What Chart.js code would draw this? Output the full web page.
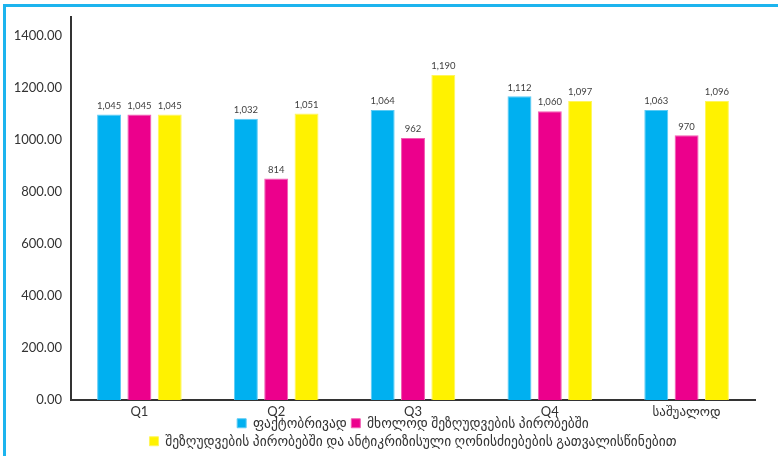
<!DOCTYPE html>
<html>
<head>
<meta charset="utf-8">
<script src="https://cdn.jsdelivr.net/npm/chart.js@4.4.1/dist/chart.umd.min.js"></script>
<style>
    body { margin: 0; background: #fff; }
    #wrap { position: relative; width: 778px; height: 456px; }
    #lineTop { position: absolute; left: 3px; top: 4px; width: 775px; height: 3px; background: #1cb4ee; }
    #lineLeft { position: absolute; left: 3px; top: 4px; width: 3px; height: 452px; background: #1cb4ee; }
</style>
</head>
<body>
<div id="wrap">
    <canvas id="chiffres" width="778" height="456"></canvas>
    <div id="lineTop"></div>
    <div id="lineLeft"></div>
</div>
<script>
var ctx = document.querySelector('#chiffres');

// categories
const categories = ['Q1', 'Q2', 'Q3', 'Q4', 'საშუალოდ'];

// series names
const seriesNames = [
    'ფაქტობრივად',
    'მხოლოდ შეზღუდვების პირობებში',
    'შეზღუდვების პირობებში და ანტიკრიზისული ღონისძიებების გათვალისწინებით'
];

// bar heights as read against the y axis
const factual = [1098, 1082, 1115, 1168, 1115];
const restrictionsOnly = [1098, 852, 1008, 1111, 1018];
const withMeasures = [1098, 1102, 1250, 1150, 1150];

// numbers printed above the bars
const factualLabels = [1045, 1032, 1064, 1112, 1063];
const restrictionsOnlyLabels = [1045, 814, 962, 1060, 970];
const withMeasuresLabels = [1045, 1051, 1190, 1097, 1096];

// y ticks
const yTicks = [0, 200, 400, 600, 800, 1000, 1200, 1400];

const fontFam = "Lato, 'DejaVu Sans', sans-serif";

var labelPlugin = {
    id: 'barLabels',
    afterDatasetsDraw: function (chart) {
        var c = chart.ctx;
        c.save();
        c.font = '9.5px ' + fontFam;
        c.fillStyle = '#404040';
        c.textAlign = 'center';
        c.textBaseline = 'bottom';
        chart.data.datasets.forEach(function (ds, i) {
            var meta = chart.getDatasetMeta(i);
            meta.data.forEach(function (bar, j) {
                c.fillText(ds.printed[j].toLocaleString('en-US'), bar.x, bar.y - 4);
            });
        });
        c.restore();
    }
};

// legend sits tight under the x labels, so take a bit of its room back
var legendPlace = {
    id: 'legendPlace',
    beforeLayout: function (chart) {
        var lg = chart.legend;
        if (lg && !lg._patched) {
            var origFit = lg.fit;
            lg.fit = function () {
                origFit.call(this);
                this.height = this.height - 13.5;
            };
            lg._patched = true;
        }
    },
    afterLayout: function (chart) {
        // only move the top edge, the bottom stays so nothing is clipped
        chart.legend.top -= 11.5;
    }
};

var data_x = {
    labels: categories,
    datasets: [{
        label: seriesNames[0],
        data: factual,
        printed: factualLabels,
        backgroundColor: '#00b0f0',
        borderColor: '#5ccbf5',
        borderWidth: 1
    }, {
        label: seriesNames[1],
        data: restrictionsOnly,
        printed: restrictionsOnlyLabels,
        backgroundColor: '#ec008c',
        borderColor: '#f25cb3',
        borderWidth: 1
    }, {
        label: seriesNames[2],
        data: withMeasures,
        printed: withMeasuresLabels,
        backgroundColor: '#fff200',
        borderColor: '#fff65c',
        borderWidth: 1
    }]
};

var config_x = {
    type: 'bar',
    data: data_x,
    plugins: [labelPlugin, legendPlace],
    options: {
        responsive: false,
        animation: false,
        categoryPercentage: 0.665,
        barPercentage: 0.79,
        layout: {
            padding: { top: 15, right: 23, left: 0, bottom: 0 }
        },
        plugins: {
            tooltip: { enabled: false },
            legend: {
                position: 'bottom',
                fullSize: false,
                labels: {
                    boxWidth: 9,
                    boxHeight: 9,
                    padding: 4.5,
                    color: '#333',
                    font: { size: 13.5, family: fontFam }
                }
            }
        },
        scales: {
            x: {
                grid: { display: false, drawTicks: false },
                border: { color: '#333', width: 2 },
                ticks: {
                    color: '#333',
                    padding: 4,
                    font: { size: 13, family: fontFam }
                }
            },
            y: {
                min: 0,
                max: 1474,
                afterBuildTicks: function (scale) {
                    scale.ticks = yTicks.map(function (v) { return { value: v }; });
                },
                afterFit: function (scale) {
                    scale.width = 71;
                },
                grid: { display: false, drawTicks: false },
                border: { color: '#333', width: 2 },
                ticks: {
                    color: '#333',
                    padding: 9,
                    font: { size: 13, family: fontFam },
                    callback: function (v) { return Number(v).toFixed(2); }
                }
            }
        }
    }
};

new Chart(ctx, config_x);
</script>
</body>
</html>
